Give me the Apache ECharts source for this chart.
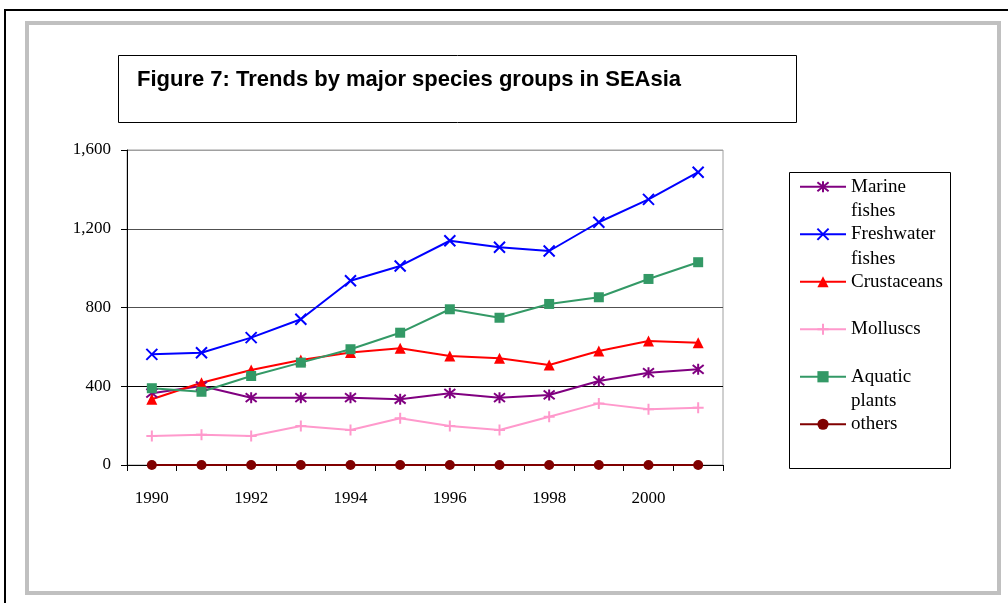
<!DOCTYPE html>
<html>
<head>
<meta charset="utf-8">
<script src="https://cdn.jsdelivr.net/npm/echarts@6/dist/echarts.min.js"></script>
<style>
  html, body { margin: 0; padding: 0; background: #fff; }
  #chart { width: 1008px; height: 603px; }
</style>
</head>
<body>
<div id="chart"></div>
<script>
// data
const years = ['1990', '1991', '1992', '1993', '1994', '1995', '1996', '1997', '1998', '1999', '2000', '2001']
const marineFishes = [365, 401, 342, 342, 342, 334, 364, 342, 356, 427, 469, 486]
const freshwaterFishes = [562, 570, 647, 740, 936, 1011, 1139, 1106, 1087, 1233, 1349, 1487]
const crustaceans = [334, 418, 483, 533, 572, 593, 554, 542, 508, 579, 630, 621]
const molluscs = [147, 154, 147, 198, 178, 237, 198, 178, 245, 313, 283, 291]
const aquaticPlants = [390, 372, 452, 520, 588, 672, 791, 748, 818, 852, 945, 1030]
const others = [0, 0, 0, 0, 0, 0, 0, 0, 0, 0, 0, 0]
const yTicks = [0, 400, 800, 1200, 1600]

// legend text, wrapped like the original
// (blank first line so the real first line sits level with the icon)
const legendText = {
  'Marine fishes': ' \nMarine\nfishes',
  'Freshwater fishes': ' \nFreshwater\nfishes',
  'Crustaceans': ' \nCrustaceans\n ',
  'Molluscs': ' \nMolluscs\n ',
  'Aquatic plants': ' \nAquatic\nplants',
  'others': ' \nothers\n '
}

const SERIF = '"Liberation Serif", "Times New Roman", serif'

const makeSeries = (name, data, color, symbol, size, stroked) => ({
  name: name,
  type: 'line',
  data: data,
  symbol: symbol,
  symbolSize: size,
  showSymbol: true,
  animation: false,
  lineStyle: { color: color, width: 2 },
  itemStyle: {
    color: color,
    borderColor: color,
    borderWidth: stroked ? 2 : 0
  },
  emphasis: { disabled: true }
})

const chart = echarts.init(document.getElementById('chart'))

const option = {
  animation: false,
  backgroundColor: '#fff',
  title: {
    text: 'Figure 7: Trends by major species groups in SEAsia',
    left: 137,
    top: 69,
    padding: 0,
    textStyle: {
      fontFamily: 'Arial, "Liberation Sans", sans-serif',
      fontWeight: 'bold',
      fontSize: 22,
      color: '#000'
    }
  },
  graphic: [
    // outer black border
    { type: 'rect', shape: { x: 5, y: 10, width: 1100, height: 700 }, style: { fill: null, stroke: '#000', lineWidth: 2 }, silent: true, z: -10 },
    // grey frame
    { type: 'rect', shape: { x: 27, y: 23, width: 972, height: 570 }, style: { fill: '#fff', stroke: '#c0c0c0', lineWidth: 4 }, silent: true, z: -9 },
    // title box
    { type: 'rect', shape: { x: 118.5, y: 55.5, width: 678, height: 67 }, style: { fill: null, stroke: '#000', lineWidth: 1 }, silent: true },
    // legend box
    { type: 'rect', shape: { x: 789.5, y: 172.5, width: 161, height: 296 }, style: { fill: null, stroke: '#000', lineWidth: 1 }, silent: true }
  ],
  legend: {
    orient: 'vertical',
    left: 799,
    top: 150,
    padding: 0,
    itemGap: -26,
    itemWidth: 46,
    itemHeight: 14,
    textStyle: {
      fontFamily: SERIF,
      fontSize: 19,
      lineHeight: 24.5,
      color: '#000'
    },
    formatter: name => legendText[name] || name,
    selectedMode: false
  },
  grid: {
    left: 127,
    right: 285,
    top: 150,
    bottom: 138,
    show: true,
    borderColor: '#a0a0a0',
    borderWidth: 1,
    containLabel: false
  },
  xAxis: {
    type: 'category',
    data: years,
    boundaryGap: true,
    axisLine: { lineStyle: { color: '#000', width: 1 } },
    axisTick: { show: true, interval: 0, length: 6, inside: false, lineStyle: { color: '#000' } },
    axisLabel: {
      interval: 1,
      margin: 25,
      fontFamily: SERIF,
      fontSize: 17,
      color: '#000'
    },
    splitLine: { show: false }
  },
  yAxis: {
    type: 'value',
    min: yTicks[0],
    max: yTicks[yTicks.length - 1],
    interval: 400,
    axisLine: { show: true, lineStyle: { color: '#000', width: 1 } },
    axisTick: { show: true, length: 6, lineStyle: { color: '#000' } },
    axisLabel: {
      margin: 16,
      fontFamily: SERIF,
      fontSize: 17,
      color: '#000',
      formatter: v => v.toLocaleString('en-US')
    },
    splitLine: {
      show: true,
      lineStyle: { color: ['#000', '#000', '#505050', '#505050', '#a0a0a0'], width: 1 }
    }
  },
  series: [
    makeSeries('Marine fishes', marineFishes, '#800080', 'path://M5,0L5,10M1,1L9,9M9,1L1,9', 11, true),
    makeSeries('Freshwater fishes', freshwaterFishes, '#0000ff', 'path://M0,0L10,10M10,0L0,10', 11, true),
    makeSeries('Crustaceans', crustaceans, '#ff0000', 'triangle', 11, false),
    makeSeries('Molluscs', molluscs, '#ff99cc', 'path://M5,0L5,10M0,5L10,5', 11, true),
    makeSeries('Aquatic plants', aquaticPlants, '#339966', 'rect', 10, false),
    makeSeries('others', others, '#800000', 'circle', 10, false)
  ]
}

chart.setOption(option)
</script>
</body>
</html>
